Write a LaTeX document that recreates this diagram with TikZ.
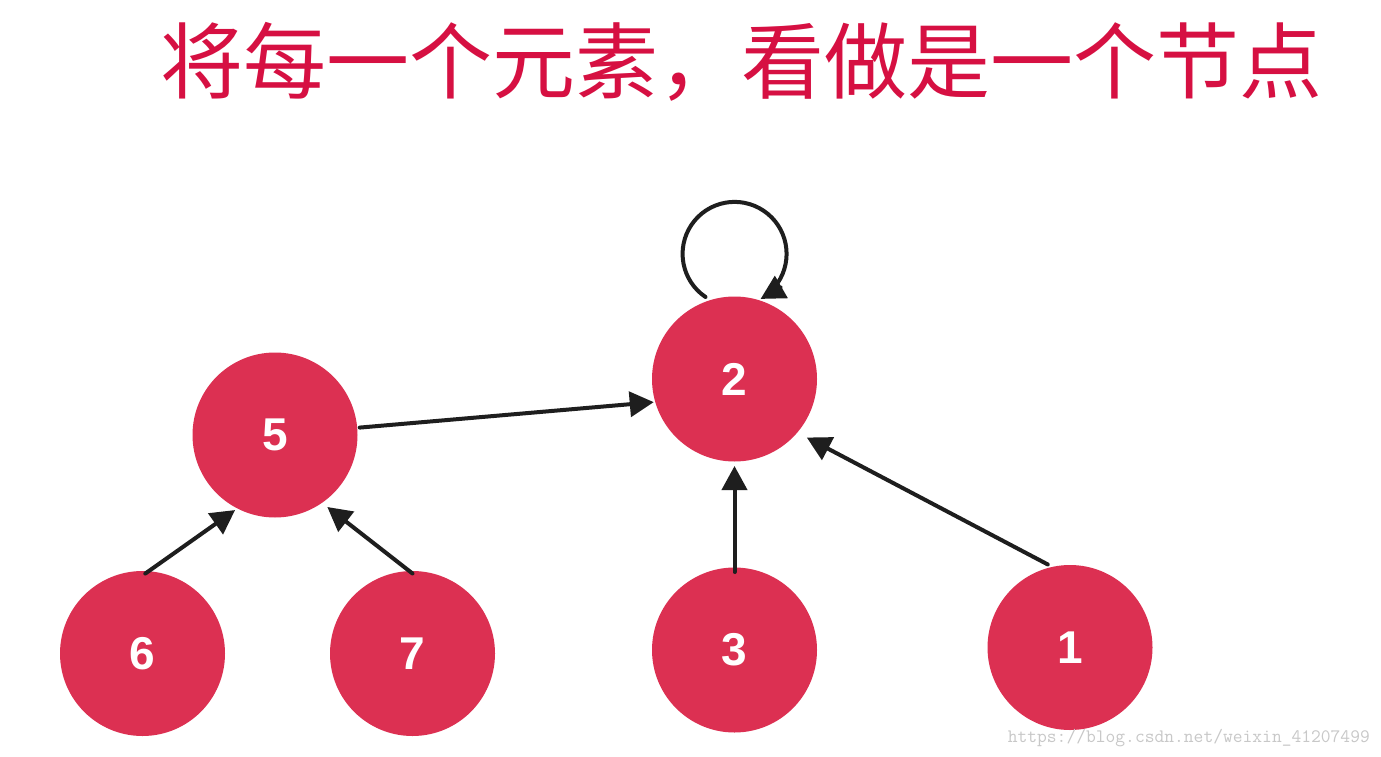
\documentclass[tikz,border=0pt]{standalone}
\usepackage{fontspec}
\setmainfont{Liberation Sans}
\newfontfamily\cjk{Noto Sans CJK SC}
\usetikzlibrary{arrows.meta,calc}
\definecolor{nodered}{RGB}{220,48,82}
\definecolor{titlered}{RGB}{214,16,66}
\definecolor{inkblack}{RGB}{30,30,30}
\definecolor{wmgray}{RGB}{200,200,200}
\begin{document}
\begin{tikzpicture}[x=1pt,y=-1pt,
  elem/.style={circle,fill=nodered,minimum size=165pt,inner sep=0pt,outer sep=0pt,
    text=white,font=\fontsize{46}{46}\selectfont\bfseries},
  arr/.style={draw=inkblack,line width=4pt,line cap=round,
    -{Triangle[length=24pt,width=25pt]}},
  title/.style={text=titlered,font=\cjk\fontsize{83}{83}\selectfont,inner sep=0pt},
  wm/.style={text=wmgray,font=\ttfamily\fontsize{19}{19}\selectfont,inner sep=0pt}]
\useasboundingbox (0,0) rectangle (1381,757);
\fill[white] (0,0) rectangle (1381,757);

\node[title] (t) at (741,62) {将每一个元素，看做是一个节点};

\node[elem] (n2) at (734.5,379) {2};
\node[elem] (n5) at (275,435) {5};
\node[elem] (n6) at (142.5,653.5) {6};
\node[elem] (n7) at (412.5,653.5) {7};
\node[elem] (n3) at (734.5,650) {3};
\node[elem] (n1) at (1070,647.5) {1};

\node[wm,anchor=east] (w) at (1370,738) {https://blog.csdn.net/weixin\_41207499};

% self loop
\draw[arr] ($(n2.center)+(-29,-82)$) arc[start angle=124,end angle=420,radius=52];

\draw[arr] ($(n5.center)!85pt!(n5.5)$) -- ($(n2.center)!84pt!(n2.196)$);
\draw[arr] ($(n6.center)!80pt!(n6.88)$) -- ($(n5.center)!85pt!(n5.-118)$);
\draw[arr] ($(n7.center)!80pt!(n7.90)$) -- ($(n5.center)!89pt!(n5.-54)$);
\draw[arr] ($(n3.center)!78pt!(n3.90)$) -- ($(n2.center)!87pt!(n2.-90)$);
\draw[arr] ($(n1.center)!86pt!(n1.105)$) -- ($(n2.center)!93pt!(n2.-39)$);
\end{tikzpicture}
\end{document}
